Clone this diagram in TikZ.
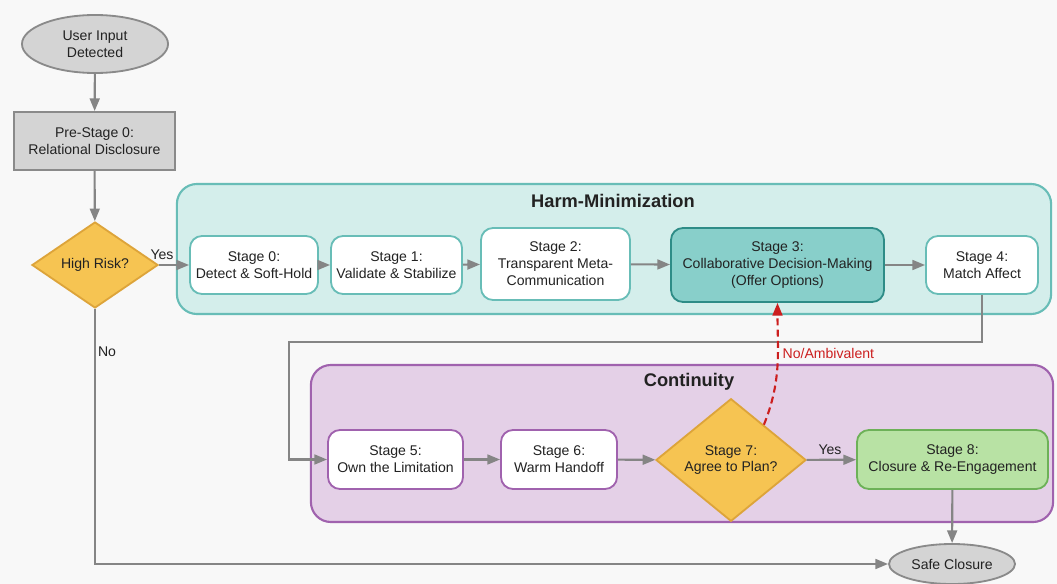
\documentclass[tikz,border=0pt]{standalone}
\usepackage{fontspec}
\setmainfont{Liberation Sans}
\usetikzlibrary{shapes.geometric, arrows.meta, positioning}
\definecolor{bgcol}{HTML}{F8F8F8}
\definecolor{txtcol}{HTML}{222222}
\definecolor{flowgray}{HTML}{858585}
\definecolor{termfill}{HTML}{D4D4D4}
\definecolor{termline}{HTML}{8A8A8A}
\definecolor{goldfill}{HTML}{F6C452}
\definecolor{goldline}{HTML}{DDA43A}
\definecolor{harmfill}{HTML}{D4EEEB}
\definecolor{harmline}{HTML}{68BDB7}
\definecolor{keyfill}{HTML}{88CFCA}
\definecolor{keyline}{HTML}{2E8C87}
\definecolor{contfill}{HTML}{E4D0E7}
\definecolor{contline}{HTML}{A062AE}
\definecolor{greenfill}{HTML}{B8E2A4}
\definecolor{greenline}{HTML}{6DB158}
\definecolor{noamb}{HTML}{CC1F1F}
\tikzset{
    every node/.style={font=\fontsize{10}{12}\selectfont, align=center, text=txtcol}, % default text
    flow/.style={-{Triangle[length=9pt,width=7pt]}, line width=1.5pt, draw=flowgray}, % gray connectors
    backflow/.style={-{Triangle[length=9pt,width=7pt]}, line width=1.5pt, draw=noamb, dash pattern=on 5pt off 3pt}, % red dashed return
    terminal/.style={ellipse, draw=termline, fill=termfill, line width=1.3pt, inner sep=1pt},
    prebox/.style={rectangle, draw=termline, fill=termfill, line width=1.3pt, minimum width=4.025cm, minimum height=1.45cm},
    decision/.style={diamond, draw=goldline, fill=goldfill, line width=1.3pt, inner sep=0pt},
    harmgroup/.style={rectangle, rounded corners=0.5cm, draw=harmline, fill=harmfill, line width=1.5pt},
    contgroup/.style={rectangle, rounded corners=0.5cm, draw=contline, fill=contfill, line width=1.5pt},
    grouptitle/.style={font=\bfseries\fontsize{13}{15}\selectfont},
    harmstage/.style={rectangle, rounded corners=0.3cm, draw=harmline, fill=white, line width=1.3pt, minimum height=1.45cm},
    keystage/.style={rectangle, rounded corners=0.3cm, draw=keyline, fill=keyfill, line width=1.3pt},
    contstage/.style={rectangle, rounded corners=0.3cm, draw=contline, fill=white, line width=1.3pt, minimum height=1.475cm},
    closestage/.style={rectangle, rounded corners=0.3cm, draw=greenline, fill=greenfill, line width=1.3pt, minimum height=1.475cm},
    lbl/.style={inner sep=1pt}, % edge labels
}
\begin{document}
\begin{tikzpicture}[x=0.025cm, y=-0.025cm]
\fill[bgcol] (0,0) rectangle (1057,584);
\useasboundingbox (0,0) rectangle (1057,584);
% groups
\node[harmgroup, minimum width=21.85cm, minimum height=3.25cm] (harm) at (614,249) {};
\node[grouptitle] (harmtitle) at (613,201) {Harm-Minimization};
\node[contgroup, minimum width=18.55cm, minimum height=3.925cm] (cont) at (682,443.5) {};
\node[grouptitle] (conttitle) at (689,382) {Continuity};
% entry
\node[terminal, minimum width=3.65cm, minimum height=1.45cm] (input) at (95,44) {User Input\\Detected};
\node[prebox] (pre) at (94.5,141) {Pre-Stage 0:\\Relational Disclosure};
\node[decision, minimum width=3.15cm, minimum height=2.15cm] (risk) at (95,265) {High Risk?};
% harm-minimization stages
\node[harmstage, minimum width=3.2cm] (s0) at (254,265) {Stage 0:\\Detect \& Soft-Hold};
\node[harmstage, minimum width=3.275cm] (s1) at (396.5,265) {Stage 1:\\Validate \& Stabilize};
\node[harmstage, minimum width=3.725cm, minimum height=1.8cm] (s2) at (555.5,264) {Stage 2:\\Transparent Meta-\\Communication};
\node[keystage, minimum width=5.325cm, minimum height=1.85cm] (s3) at (777.5,265) {Stage 3:\\Collaborative Decision-Making\\(Offer Options)};
\node[harmstage, minimum width=2.8cm] (s4) at (982,265) {Stage 4:\\Match Affect};
% continuity stages
\node[contstage, minimum width=3.375cm] (s5) at (395.5,459.5) {Stage 5:\\Own the Limitation};
\node[contstage, minimum width=2.9cm] (s6) at (559,459.5) {Stage 6:\\Warm Handoff};
\node[decision, minimum width=3.75cm, minimum height=2.55cm] (s7) at (731,460) {Stage 7:\\Agree to Plan?};
\node[closestage, minimum width=4.775cm] (s8) at (952.5,459.5) {Stage 8:\\Closure \& Re-Engagement};
\node[terminal, minimum width=3.15cm, minimum height=1.0cm] (safe) at (952,564) {Safe Closure};
\coordinate (back) at (289,342);
% labels
\node[lbl] (yes1) at (162,255) {Yes};
\node[lbl] (no1) at (107,352) {No};
\node[lbl] (yes2) at (830,450) {Yes};
\node[lbl, text=noamb, anchor=west] (noamblbl) at (781,353) {No/Ambivalent};
% connectors
\draw[flow] (input) -- (pre);
\draw[flow] (pre) -- (risk);
\draw[flow] (risk) -- (s0);
\draw[flow] (s0) -- (s1);
\draw[flow] (s1) -- (s2);
\draw[flow] (s2) -- (s3);
\draw[flow] (s3) -- (s4);
\draw[flow] (s4.south) |- (back) |- (s5.west);
\draw[flow] (s5) -- (s6);
\draw[flow] (s6) -- (s7);
\draw[flow] (s7) -- (s8);
\draw[flow] (s8) -- (safe);
\draw[flow] (risk.south) |- (safe.west);
\draw[backflow] (s7.47) to[out=68, in=-90] (s3.south);
\end{tikzpicture}
\end{document}
